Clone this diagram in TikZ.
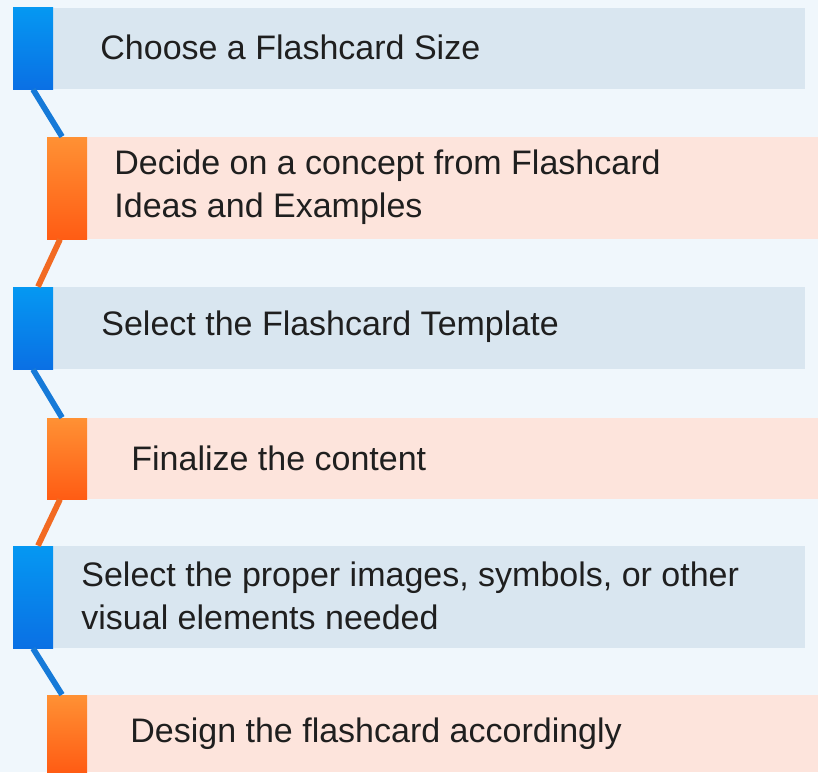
\documentclass[tikz,border=0pt]{standalone}
\usepackage{fontspec}
\setmainfont{Liberation Sans}
\usepackage{pgf,tikz}
\usetikzlibrary{calc}

\definecolor{pagebg}{RGB}{240,247,252}
\definecolor{barblue}{RGB}{217,230,240}
\definecolor{barpink}{RGB}{253,228,220}
\definecolor{tabbluetop}{RGB}{5,152,242}
\definecolor{tabbluebot}{RGB}{10,112,228}
\definecolor{taborangetop}{RGB}{255,145,52}
\definecolor{taborangebot}{RGB}{255,92,20}
\definecolor{lineblue}{RGB}{22,122,216}
\definecolor{lineorange}{RGB}{242,106,34}

\begin{document}
\begin{tikzpicture}[x=0.5pt,y=-0.5pt,
  bluetab/.style={rectangle,inner sep=0,minimum width=20pt,top color=tabbluetop,bottom color=tabbluebot},
  orangetab/.style={rectangle,inner sep=0,minimum width=20pt,top color=taborangetop,bottom color=taborangebot},
  steptext/.style={anchor=west,inner sep=0,align=left,text=black!88,font=\fontsize{17}{21.5}\selectfont},
  link/.style={line width=2.9pt}]
\fill[pagebg] (0,0) rectangle (818,772);
\useasboundingbox (0,0) rectangle (818,772);
% bars
\fill[barblue] (53,8) rectangle (805,89);
\fill[barpink] (87,137) rectangle (818,239);
\fill[barblue] (53,287) rectangle (805,369);
\fill[barpink] (87,418) rectangle (818,499);
\fill[barblue] (53,546) rectangle (805,648);
\fill[barpink] (87,695) rectangle (818,772);
% tabs
\node[bluetab,minimum height=41pt] (t1) at (33,48) {};
\node[orangetab,minimum height=51pt] (t2) at (67,188) {};
\node[bluetab,minimum height=41pt] (t3) at (33,328) {};
\node[orangetab,minimum height=40.5pt] (t4) at (67,458.5) {};
\node[bluetab,minimum height=51pt] (t5) at (33,597) {};
\node[orangetab,minimum height=38.5pt] (t6) at (67,733.5) {};
% links
\draw[link,lineblue] (t1.south) -- ($(t2.north)+(-5,0)$);
\draw[link,lineorange] ($(t2.south)+(-7,0)$) -- ($(t3.north)+(5,0)$);
\draw[link,lineblue] (t3.south) -- ($(t4.north)+(-5,0)$);
\draw[link,lineorange] ($(t4.south)+(-7,0)$) -- ($(t5.north)+(5,0)$);
\draw[link,lineblue] (t5.south) -- ($(t6.north)+(-5,0)$);
% texts
\node[steptext] (s1) at (100,47) {Choose a Flashcard Size};
\node[steptext] (s2) at (114,187) {Decide on a concept from Flashcard\\Ideas and Examples};
\node[steptext] (s3) at (101,327) {Select the Flashcard Template};
\node[steptext] (s4) at (131,458) {Finalize the content};
\node[steptext] (s5) at (81,596) {Select the proper images, symbols, or other\\visual elements needed};
\node[steptext] (s6) at (130,734) {Design the flashcard accordingly};
\end{tikzpicture}
\end{document}
